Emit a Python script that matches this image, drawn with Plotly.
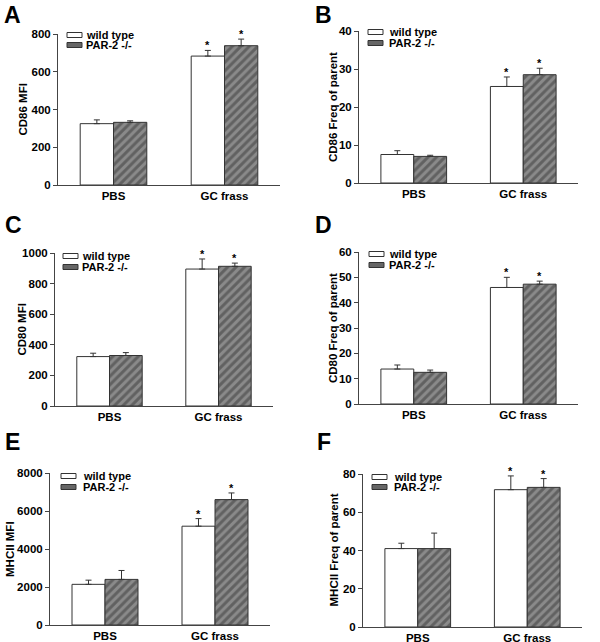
import plotly.graph_objects as go

W, H = 600, 642

categories = ["PBS", "GC frass"]
series_names = ["wild type", "PAR-2 -/-"]

# Panel A: CD86 MFI
a_wt = [325, 683]
a_wt_err = [20, 30]
a_ko = [332, 738]
a_ko_err = [8, 35]
# Panel B: CD86 Freq of parent
b_wt = [7.5, 25.4]
b_wt_err = [1.0, 2.5]
b_ko = [7.0, 28.5]
b_ko_err = [0.3, 1.7]
# Panel C: CD80 MFI
c_wt = [323, 895]
c_wt_err = [22, 66]
c_ko = [330, 913]
c_ko_err = [19, 21]
# Panel D: CD80 Freq of parent
d_wt = [13.8, 46.0]
d_wt_err = [1.6, 4.0]
d_ko = [12.5, 47.3]
d_ko_err = [0.9, 1.2]
# Panel E: MHCII MFI
e_wt = [2140, 5200]
e_wt_err = [220, 400]
e_ko = [2400, 6600]
e_ko_err = [470, 350]
# Panel F: MHCII Freq of parent
f_wt = [41.0, 71.8]
f_wt_err = [2.8, 7.2]
f_ko = [41.0, 73.0]
f_ko_err = [8.1, 4.6]

significant = [False, True]

panels = [
    dict(letter="A", title="CD86 MFI", wt=a_wt, wte=a_wt_err, ko=a_ko, koe=a_ko_err,
         ymax=800, dtick=200, box=(58, 280, 34, 185), letter_xy=(2, 15), title_x=23, leg=(9, 26, 1, 11)),
    dict(letter="B", title="CD86 Freq of parent", wt=b_wt, wte=b_wt_err, ko=b_ko, koe=b_ko_err,
         ymax=40, dtick=10, box=(359, 578, 31, 183), letter_xy=(313, 15), title_x=333, leg=(9, 28, 1, 12)),
    dict(letter="C", title="CD80 MFI", wt=c_wt, wte=c_wt_err, ko=c_ko, koe=c_ko_err,
         ymax=1000, dtick=200, box=(55, 273, 253, 406), letter_xy=(3, 225), title_x=21, leg=(8, 25, 3, 14)),
    dict(letter="D", title="CD80 Freq of parent", wt=d_wt, wte=d_wt_err, ko=d_ko, koe=d_ko_err,
         ymax=60, dtick=10, box=(359, 578, 252, 404), letter_xy=(313, 225), title_x=333, leg=(10, 28, 2, 13)),
    dict(letter="E", title="MHCII MFI", wt=e_wt, wte=e_wt_err, ko=e_ko, koe=e_ko_err,
         ymax=8000, dtick=2000, box=(50, 270, 473, 625), letter_xy=(3, 442), title_x=10, leg=(11, 31, 3, 14)),
    dict(letter="F", title="MHCII Freq of parent", wt=f_wt, wte=f_wt_err, ko=f_ko, koe=f_ko_err,
         ymax=80, dtick=20, box=(363, 582, 474, 627), letter_xy=(315, 442), title_x=333, leg=(9, 29, 3, 13)),
]

FONT = "Liberation Sans, Arial, sans-serif"
AX = "#444444"
EDGE = "#333333"
BARGAP = 0.4

def px(x):
    return x / W

def py(y):
    return 1 - y / H

fig = go.Figure()
shapes = []
annotations = []

xpos = list(range(len(categories)))
half = (1 - BARGAP) / 4  # offset of each bar centre from category centre

for i, p in enumerate(panels):
    n = "" if i == 0 else str(i + 1)
    xa, ya = "x" + n, "y" + n
    x0, x1, y0, y1 = p["box"]
    fig.add_trace(go.Bar(
        x=xpos, y=p["wt"], name=series_names[0], xaxis=xa, yaxis=ya,
        marker=dict(color="white", line=dict(color=EDGE, width=1)),
        error_y=dict(type="data", array=p["wte"], arrayminus=[0] * len(p["wte"]), symmetric=False,
                     color=EDGE, thickness=1, width=3),
        showlegend=False))
    fig.add_trace(go.Bar(
        x=xpos, y=p["ko"], name=series_names[1], xaxis=xa, yaxis=ya,
        marker=dict(color="#6a6a6a", line=dict(color=EDGE, width=1),
                    pattern=dict(shape="/", fgcolor="#383838", bgcolor="#8a8a8a", size=6, solidity=0.5)),
        error_y=dict(type="data", array=p["koe"], arrayminus=[0] * len(p["koe"]), symmetric=False,
                     color=EDGE, thickness=1, width=3),
        showlegend=False))

    fig.layout["xaxis" + n] = dict(
        domain=[px(x0), px(x1)], anchor=ya, range=[-0.5, len(categories) - 0.5], automargin=False,
        tickvals=xpos, ticktext=categories, ticks="", showline=True, linecolor=AX, linewidth=1,
        showgrid=False, zeroline=False, fixedrange=True,
        tickfont=dict(family=FONT, size=11.5, color="black", weight="bold"))
    fig.layout["yaxis" + n] = dict(
        domain=[py(y1), py(y0)], anchor=xa, range=[0, p["ymax"]], dtick=p["dtick"], automargin=False,
        ticks="outside", ticklen=4, tickcolor=AX, showline=True, linecolor=AX, linewidth=1,
        showgrid=False, zeroline=False, fixedrange=True,
        tickfont=dict(family=FONT, size=11.5, color="black", weight="bold"))

    # significance stars
    for j, sig in enumerate(significant):
        if not sig:
            continue
        for vals, errs, sgn in ((p["wt"], p["wte"], -1), (p["ko"], p["koe"], 1)):
            annotations.append(dict(
                x=xpos[j] + sgn * half, y=vals[j] + errs[j], xref=xa, yref=ya,
                text="*", showarrow=False, yanchor="bottom", yshift=-3,
                font=dict(family=FONT, size=11, color="black", weight="bold")))

    # panel letter
    lx, ly = p["letter_xy"]
    annotations.append(dict(
        x=px(lx), y=py(ly), xref="paper", yref="paper", text=p["letter"], showarrow=False,
        xanchor="left", yanchor="middle",
        font=dict(family=FONT, size=23, color="black", weight="bold")))

    # y axis title
    annotations.append(dict(
        x=px(p["title_x"]), y=py((y0 + y1) / 2), xref="paper", yref="paper", text=p["title"],
        showarrow=False, textangle=-90, xanchor="center", yanchor="middle",
        font=dict(family=FONT, size=11.5, color="black", weight="bold")))

    # legend
    bo, to, r1, r2 = p["leg"]
    for k, (rowy, fill) in enumerate(((r1, "white"), (r2, "#666666"))):
        cy = y0 + rowy
        shapes.append(dict(
            type="rect", xref="paper", yref="paper",
            x0=px(x0 + bo), x1=px(x0 + bo + 15), y0=py(cy + 2.5), y1=py(cy - 2.5),
            fillcolor=fill, line=dict(color=EDGE, width=1)))
        annotations.append(dict(
            x=px(x0 + to), y=py(cy), xref="paper", yref="paper", text=series_names[k],
            showarrow=False, xanchor="left", yanchor="middle",
            font=dict(family=FONT, size=11, color="black", weight="bold")))

fig.update_layout(
    width=W, height=H, margin=dict(l=0, r=0, t=0, b=0, autoexpand=False),
    paper_bgcolor="white", plot_bgcolor="white",
    barmode="group", bargap=BARGAP, bargroupgap=0,
    showlegend=False, shapes=shapes, annotations=annotations,
    font=dict(family=FONT, color="black"))

fig.write_html("out.html", config={"displayModeBar": False},
               post_script="document.body.style.margin='0';document.body.style.overflow='hidden';")
